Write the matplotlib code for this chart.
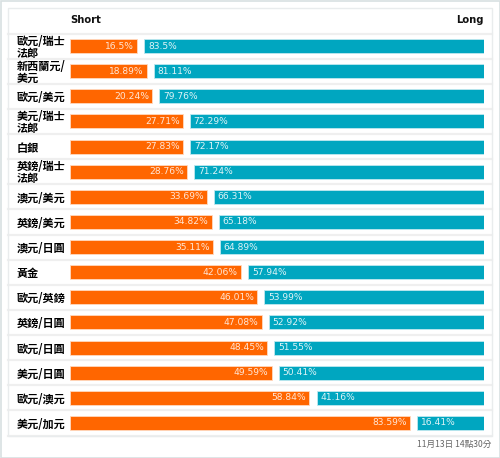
import matplotlib
matplotlib.use("Agg")
import matplotlib.pyplot as plt
from matplotlib.patches import Rectangle

plt.rcParams['font.family'] = ['Noto Sans CJK TC', 'DejaVu Sans']

pairs = ["歐元/瑞士\n法郎", "新西蘭元/\n美元", "歐元/美元", "美元/瑞士\n法郎", "白銀",
         "英鎊/瑞士\n法郎", "澳元/美元", "英鎊/美元", "澳元/日圓", "黃金", "歐元/英鎊",
         "英鎊/日圓", "歐元/日圓", "美元/日圓", "歐元/澳元", "美元/加元"]
short_pct = [16.5, 18.89, 20.24, 27.71, 27.83, 28.76, 33.69, 34.82, 35.11, 42.06,
             46.01, 47.08, 48.45, 49.59, 58.84, 83.59]
long_pct = [83.5, 81.11, 79.76, 72.29, 72.17, 71.24, 66.31, 65.18, 64.89, 57.94,
            53.99, 52.92, 51.55, 50.41, 41.16, 16.41]
short_labels = ["16.5%", "18.89%", "20.24%", "27.71%", "27.83%", "28.76%", "33.69%",
                "34.82%", "35.11%", "42.06%", "46.01%", "47.08%", "48.45%", "49.59%",
                "58.84%", "83.59%"]
long_labels = ["83.5%", "81.11%", "79.76%", "72.29%", "72.17%", "71.24%", "66.31%",
               "65.18%", "64.89%", "57.94%", "53.99%", "52.92%", "51.55%", "50.41%",
               "41.16%", "16.41%"]
footer = "11月13日 14點30分"

W, H = 500, 458
fig = plt.figure(figsize=(W / 100, H / 100), dpi=100)
fig.patch.set_facecolor("white")

# outer border
fig.add_artist(Rectangle((0.5 / W, 0.5 / H), 1 - 1 / W, 1 - 1 / H, transform=fig.transFigure,
                         fill=False, edgecolor="#d8e0e2", lw=1.2))
# inner box
fig.add_artist(Rectangle((8 / W, 1 - 435.5 / H), 484 / W, (435.5 - 8) / H, transform=fig.transFigure,
                         fill=False, edgecolor="#e9eced", lw=1.0))

top_px, bot_px = 33.5, 435.5
ax = fig.add_axes([70 / W, 1 - bot_px / H, 414 / W, (bot_px - top_px) / H])
n = len(pairs)
gap = 1.75
ys = list(range(n))
bh = 0.56
orange = "#ff6600"
teal = "#00a6c0"
ax.barh(ys, short_pct, left=0, height=bh, color=orange, edgecolor="#ffd9bf", lw=0.6)
ax.barh(ys, long_pct, left=[s + gap for s in short_pct], height=bh, color=teal,
        edgecolor="#bfe8ef", lw=0.6)
ax.set_xlim(0, 100 + gap)
ax.set_ylim(n - 0.5, -0.5)
for i in range(n):
    ax.text(short_pct[i] - 0.8, i, short_labels[i], ha="right", va="center",
            color="#ffe6d6", fontsize=6.6, family=['DejaVu Sans'])
    ax.text(short_pct[i] + gap + 0.9, i, long_labels[i], ha="left", va="center",
            color="#e0f4f7", fontsize=6.6, family=['DejaVu Sans'])
for k in range(n + 1):
    ax.axhline(k - 0.5, xmin=(8 - 70) / 414, xmax=(492 - 70) / 414, color="#efefef",
               lw=1.6, clip_on=False, zorder=0)
ax.set_yticks(ys)
ax.set_yticklabels(pairs, fontsize=8, fontweight="bold", linespacing=0.92)
for t in ax.get_yticklabels():
    t.set_horizontalalignment("left")
    t.set_x(-(70 - 17) / 414)
ax.tick_params(axis="y", length=0, pad=0)
ax.set_xticks([])
for s in ax.spines.values():
    s.set_visible(False)

fig.text(70 / W, 1 - 20 / H, "Short", ha="left", va="center", fontsize=7.2, fontweight="bold",
         family=['DejaVu Sans'], color="#111111")
fig.text(484 / W, 1 - 20 / H, "Long", ha="right", va="center", fontsize=7.2, fontweight="bold",
         family=['DejaVu Sans'], color="#111111")
fig.text(491 / W, 1 - 444.5 / H, footer, ha="right", va="center", fontsize=6.2, color="#666666")

fig.savefig("out.png", dpi=100)
